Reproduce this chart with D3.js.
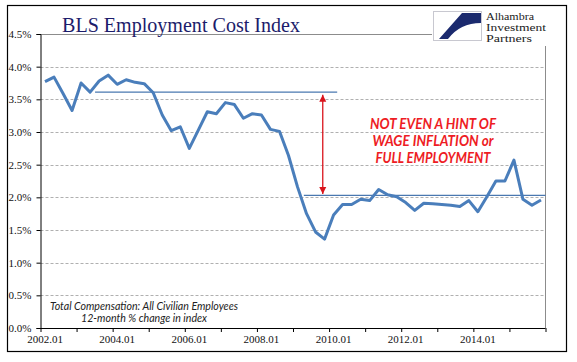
<!DOCTYPE html>
<html>
<head>
<meta charset="utf-8">
<script src="https://cdn.jsdelivr.net/npm/d3@7"></script>
<style>
  body { margin: 0; background: #fff; }
  svg { display: block; }
</style>
</head>
<body>
<div id="chart_here"></div>
<script>
// quarterly categories 2002.01 .. 2015.04
var years = [2002, 2003, 2004, 2005, 2006, 2007, 2008, 2009, 2010, 2011, 2012, 2013, 2014, 2015];
var quarters = ["01", "02", "03", "04"];
var categories = [];
years.forEach(function(yr){ quarters.forEach(function(q){ categories.push(yr + "." + q); }); });

// 12-month % change, total compensation, all civilian employees
var eciValues = [
  3.77, 3.84, 3.59, 3.33, 3.75, 3.61, 3.78, 3.87,
  3.73, 3.80, 3.76, 3.74, 3.60, 3.26, 3.02, 3.08,
  2.75, 3.03, 3.31, 3.28, 3.45, 3.42, 3.21, 3.28,
  3.26, 3.04, 3.01, 2.64, 2.16, 1.75, 1.47, 1.36,
  1.73, 1.89, 1.89, 1.97, 1.95, 2.12, 2.04, 2.01,
  1.92, 1.80, 1.91, 1.90, 1.89, 1.88, 1.86, 1.95,
  1.78, 2.01, 2.25, 2.25, 2.57, 1.97, 1.88, 1.96
];

var xTickLabels = ["2002.01", "2004.01", "2006.01", "2008.01", "2010.01", "2012.01", "2014.01"];
var yTicks = [0, 0.5, 1, 1.5, 2, 2.5, 3, 3.5, 4, 4.5];

// hand drawn reference levels (category position from/to, value)
var refFrom = [6.05, 29.2];
var refTo = [32.9, 56];
var refValue = [3.61, 2.03];
// arrow between the two levels
var arrowAt = 31.3;
var arrowTop = 3.57;
var arrowBottom = 2.05;

var noteLines = ["Total Compensation: All Civilian Employees", "12-month % change in index"];
var calloutLines = ["NOT EVEN A HINT OF", "WAGE INFLATION or", "FULL EMPLOYMENT"];
var logoLines = ["Alhambra", "Investment", "Partners"];

function drawChart(){
    const width = 577;
    const height = 362;
    const left = 40.5, right = 545.5, top = 34, bottom = 328;

    var svg = d3.select("#chart_here")
        .append("svg")
        .attr("width", width)
        .attr("height", height);

    svg.append("rect")
        .attr("x", 7.5).attr("y", 5.5)
        .attr("width", 559).attr("height", 346)
        .attr("fill", "#fff")
        .attr("stroke", "#000")
        .attr("stroke-width", 1.2);

    const xScale = d3.scaleLinear().domain([0, categories.length]).range([left, right]);
    const yScale = d3.scaleLinear().domain([0, 4.5]).range([bottom, top]);

    // gridlines
    svg.append("g")
        .selectAll("line")
        .data(yTicks.filter(d => d > 0 && d < 4.5))
        .enter()
        .append("line")
        .attr("x1", left).attr("x2", right)
        .attr("y1", d => Math.round(yScale(d)) + 0.5)
        .attr("y2", d => Math.round(yScale(d)) + 0.5)
        .attr("stroke", "#b0b0b0")
        .attr("stroke-dasharray", "3,2");

    // plot area border top / right
    svg.append("path")
        .attr("d", "M" + left + "," + (yScale(4.5) + 0.5) + "H" + right + "V" + bottom)
        .attr("fill", "none")
        .attr("stroke", "#8c8c8c");

    // y axis
    const yAxis = d3.axisLeft(yScale)
        .tickValues(yTicks)
        .tickSize(4)
        .tickPadding(5)
        .tickFormat(d => d.toFixed(1) + "%");
    svg.append("g")
        .attr("class", "axis")
        .attr("transform", "translate(" + left + ",0)")
        .call(yAxis)
        .call(g => g.select(".domain").attr("stroke", "#000"));

    // x axis: ticks every year, labels every other year
    const xAxis = d3.axisBottom(xScale)
        .tickValues(d3.range(0, categories.length + 1, 4))
        .tickSize(4)
        .tickFormat("");
    svg.append("g")
        .attr("transform", "translate(0," + bottom + ")")
        .call(xAxis)
        .call(g => g.select(".domain").attr("d", "M" + left + ",0.5H" + right));

    svg.append("g")
        .selectAll("text")
        .data(xTickLabels)
        .enter()
        .append("text")
        .attr("x", d => xScale(categories.indexOf(d) + 0.5))
        .attr("y", bottom + 15)
        .attr("text-anchor", "middle")
        .attr("font-family", "Liberation Serif, serif")
        .attr("font-size", "11px")
        .attr("fill", "#111")
        .text(d => d);

    svg.selectAll(".axis text")
        .attr("font-family", "Liberation Serif, serif")
        .attr("font-size", "11px")
        .attr("fill", "#111");

    // title
    svg.append("text")
        .attr("x", 62).attr("y", 32)
        .attr("font-family", "Liberation Serif, serif")
        .attr("font-size", "20px")
        .attr("fill", "#1c1c6b")
        .attr("textLength", 238)
        .attr("lengthAdjust", "spacingAndGlyphs")
        .text("BLS Employment Cost Index");

    // logo
    const logo = svg.append("g").attr("transform", "translate(432,8)");
    logo.append("rect").attr("width", 118).attr("height", 38).attr("fill", "#fff");
    logo.append("rect")
        .attr("x", 1.5).attr("y", 3.5).attr("width", 48).attr("height", 29)
        .attr("fill", "#fff").attr("stroke", "#c8c8d0");
    logo.append("path")
        .attr("d", "M30,5 L49,5 L49,15 Q28,15 16,31 L7,31 Z")
        .attr("fill", "#1b2a6e");
    logo.append("g")
        .selectAll("text")
        .data(logoLines)
        .enter()
        .append("text")
        .attr("x", 54)
        .attr("y", (d, i) => 12 + i * 11)
        .attr("font-family", "Liberation Serif, serif")
        .attr("font-size", "10.5px")
        .attr("fill", "#222")
        .attr("textLength", (d, i) => [48, 60, 46][i])
        .attr("lengthAdjust", "spacingAndGlyphs")
        .text(d => d);

    // reference levels
    svg.append("g")
        .selectAll("line")
        .data(refValue)
        .enter()
        .append("line")
        .attr("x1", (d, i) => xScale(refFrom[i]))
        .attr("x2", (d, i) => xScale(refTo[i]))
        .attr("y1", d => yScale(d))
        .attr("y2", d => yScale(d))
        .attr("stroke", "#4a78b0")
        .attr("stroke-width", 1.2);

    // series line
    const line = d3.line()
        .x((d, i) => xScale(i + 0.5))
        .y(d => yScale(d));
    svg.append("path")
        .attr("d", line(eciValues))
        .attr("fill", "none")
        .attr("stroke", "#4a7ebb")
        .attr("stroke-width", 3)
        .attr("stroke-linejoin", "round");

    // arrow
    const defs = svg.append("defs");
    ["start", "end"].forEach(function(k){
        defs.append("marker")
            .attr("id", "head-" + k)
            .attr("viewBox", "0 0 10 10")
            .attr("refX", 10).attr("refY", 5)
            .attr("markerWidth", 7).attr("markerHeight", 8)
            .attr("markerUnits", "userSpaceOnUse")
            .attr("orient", k === "start" ? "auto-start-reverse" : "auto")
            .append("path")
            .attr("d", "M0,0 L10,5 L0,10 Z")
            .attr("fill", "#d9141c");
    });
    svg.append("line")
        .attr("x1", xScale(arrowAt)).attr("x2", xScale(arrowAt))
        .attr("y1", yScale(arrowTop)).attr("y2", yScale(arrowBottom))
        .attr("stroke", "#d9141c")
        .attr("stroke-width", 1.3)
        .attr("marker-start", "url(#head-start)")
        .attr("marker-end", "url(#head-end)");

    // callout
    svg.append("g")
        .selectAll("text")
        .data(calloutLines)
        .enter()
        .append("text")
        .attr("x", 433)
        .attr("y", (d, i) => 128.5 + i * 17)
        .attr("text-anchor", "middle")
        .attr("font-family", "Lato, sans-serif")
        .attr("font-size", "14.5px")
        .attr("font-weight", "bold")
        .attr("font-style", "italic")
        .attr("fill", "#ee1c24")
        .attr("textLength", (d, i) => [126, 121, 115][i])
        .attr("lengthAdjust", "spacingAndGlyphs")
        .text(d => d);

    // note
    svg.append("g")
        .selectAll("text")
        .data(noteLines)
        .enter()
        .append("text")
        .attr("x", 144)
        .attr("y", (d, i) => 310 + i * 12.3)
        .attr("text-anchor", "middle")
        .attr("font-family", "Lato, sans-serif")
        .attr("font-size", "10.5px")
        .attr("font-style", "italic")
        .attr("fill", "#222")
        .attr("textLength", (d, i) => [188, 126][i])
        .attr("lengthAdjust", "spacingAndGlyphs")
        .text(d => d);
}

window.addEventListener("load", drawChart);
</script>
</body>
</html>
